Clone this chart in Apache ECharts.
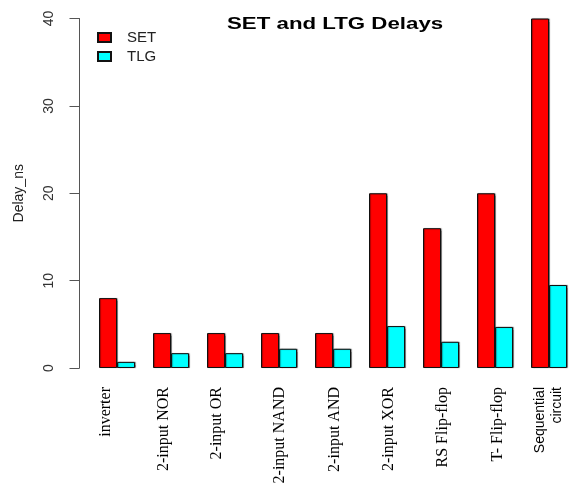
<!DOCTYPE html>
<html>
<head>
<meta charset="utf-8">
<script src="https://cdn.jsdelivr.net/npm/echarts@6/dist/echarts.min.js"></script>
<style>
  html, body { margin: 0; padding: 0; background: #fff; }
  #main { width: 571px; height: 485px; }
</style>
</head>
<body>
<div id="main"></div>
<script>
// ---- data ----
var categories = ['inverter', '2-input NOR', '2-input OR', '2-input NAND', '2-input AND',
                  '2-input XOR', 'RS Flip-flop', 'T- Flip-flop', 'Sequential\ncircuit'];
var setDelay = [8, 4, 4, 4, 4, 20, 16, 20, 40];
var tlgDelay = [0.7, 1.7, 1.7, 2.2, 2.2, 4.8, 3.0, 4.7, 9.5];
var yTicks = [0, 10, 20, 30, 40];

// horizontal nudge of each x label (px, + = right); the source labels are hand placed
var labelShift = [-11, -7, -8, 1, 2, 2, 2, 3, 0];

var chart = echarts.init(document.getElementById('main'), null, { renderer: 'canvas' });

// rotated 90deg: text "up" points to screen left, so bottom/top alignment
// with a line box of 2*|shift| moves the label by shift
var xData = categories.map(function (c, i) {
    var s = labelShift[i];
    var serif = c.indexOf('Sequential') !== 0;
    var ts = {
        fontFamily: serif ? 'Liberation Serif' : 'Liberation Sans',
        fontSize: serif ? 16 : 14,
        lineHeight: serif ? 18 : 17
    };
    if (s !== 0) {
        ts.verticalAlign = s < 0 ? 'bottom' : 'top';
        ts.lineHeight = 2 * Math.abs(s);
    }
    return { value: c, textStyle: ts };
});

var barStyle = function (color) {
    return {
        color: color,
        borderColor: '#111',
        borderWidth: 1,
        shadowColor: 'rgba(0,0,0,0.35)',
        shadowBlur: 1,
        shadowOffsetX: 1,
        shadowOffsetY: 0
    };
};

chart.setOption({
    backgroundColor: '#fff',
    animation: false,
    graphic: [{
        type: 'text',
        x: 227,
        y: 16,
        scaleX: 1.31,
        style: {
            text: 'SET and LTG Delays',
            font: 'bold 17px "Liberation Sans"',
            fill: '#000',
            textVerticalAlign: 'top'
        }
    }],
    legend: {
        orient: 'vertical',
        left: 97,
        top: 30,
        padding: 0,
        itemWidth: 13,
        itemHeight: 9,
        itemGap: 4,
        icon: 'rect',
        textStyle: { fontFamily: 'Liberation Sans', fontSize: 15, color: '#222', padding: [0, 0, 0, 11] },
        data: ['SET', 'TLG']
    },
    grid: { left: 90, top: 18.5, width: 486, bottom: 117, outerBoundsMode: 'none', containLabel: false },
    xAxis: {
        type: 'category',
        data: xData,
        axisLine: { show: false },
        axisTick: { show: false },
        axisLabel: {
            interval: 0,
            rotate: 90,
            margin: 19,
            color: '#000'
        }
    },
    yAxis: {
        type: 'value',
        min: yTicks[0],
        max: yTicks[yTicks.length - 1],
        interval: 10,
        offset: 10.5,
        name: 'Delay_ns',
        nameLocation: 'middle',
        nameGap: 53,
        nameTextStyle: { fontFamily: 'Liberation Sans', fontSize: 14, color: '#222' },
        splitLine: { show: false },
        axisLine: { show: true, lineStyle: { color: '#555', width: 1 } },
        axisTick: { show: true, length: 10, lineStyle: { color: '#555' } },
        axisLabel: {
            rotate: 90,
            margin: 23,
            fontFamily: 'Liberation Sans',
            fontSize: 14,
            color: '#333'
        }
    },
    series: [
        { name: 'SET', type: 'bar', data: setDelay, barWidth: 18, barGap: '0%', itemStyle: barStyle('#ff0000') },
        { name: 'TLG', type: 'bar', data: tlgDelay, barWidth: 18, barGap: '0%', itemStyle: barStyle('#00ffff') }
    ]
});
</script>
</body>
</html>
